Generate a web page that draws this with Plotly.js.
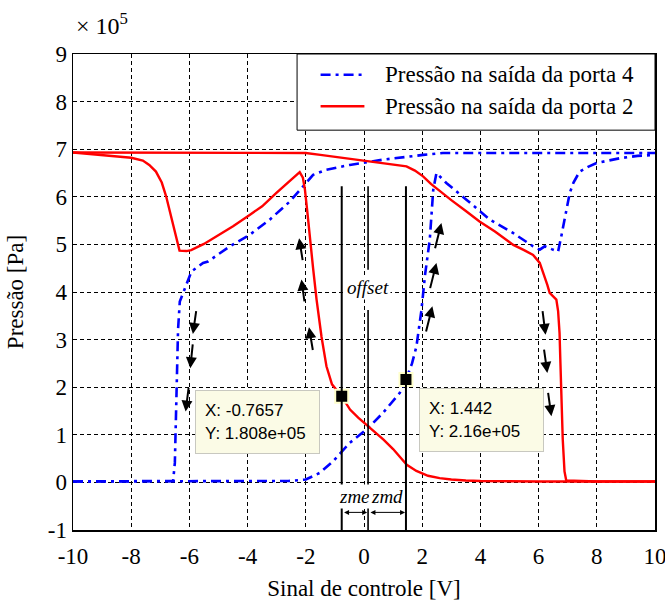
<!DOCTYPE html>
<html>
<head>
<meta charset="utf-8">
<script src="https://cdn.plot.ly/plotly-3.0.1.min.js"></script>
<style>
  html, body { margin: 0; padding: 0; background: #fff; }
  #chart { width: 665px; height: 604px; }
</style>
</head>
<body>
<div id="chart"></div>
<script>
// Pressure at port 4 (blue) — two branches of the hysteresis loop, separated by null
const port4X = [
  -10, -8, -6.56, -6.5, -6.45, -6.39, -6.33, -6.15, -5.93, -5.53, -5.36, -4.61, -3.93, -3.24, -2.55, -2.09, -1.75, -1.29, -0.49, 0.65, 1.5, 2.03, 2.71, 4, 6, 8, 10,
  null,
  -10, -6, -4, -2.6, -2.0, -1.52, -1.07, -0.49, 0.14, 0.65, 1.23, 1.442, 1.65, 1.8, 1.97, 2.1, 2.26, 2.38, 2.49, 2.83, 3.52, 4.32, 5.12, 5.81, 6.04, 6.21, 6.45, 6.67, 6.78, 6.92, 7.07, 7.2, 7.41, 7.7, 7.99, 8.79, 9.4, 10
];
const port4Y = [
  0.02, 0.02, 0.03, 0.41, 1.81, 3.21, 3.8, 4.1, 4.43, 4.61, 4.64, 4.96, 5.2, 5.52, 5.9, 6.22, 6.46, 6.57, 6.67, 6.78, 6.85, 6.88, 6.92, 6.92, 6.92, 6.92, 6.92,
  null,
  0.02, 0.02, 0.02, 0.03, 0.06, 0.2, 0.44, 0.83, 1.14, 1.46, 1.88, 2.16, 2.5, 2.85, 3.6, 4.37, 5.1, 6.15, 6.5, 6.29, 5.94, 5.52, 5.24, 4.96, 4.89, 4.96, 4.9, 4.85, 5.17, 5.65, 6.08, 6.3, 6.53, 6.63, 6.71, 6.81, 6.86, 6.88
];

// Pressure at port 2 (red) — lower loop branch, then the upper branch
const port2X = [
  -10, -9, -8, -7.6, -7.38, -7.15, -6.95, -6.8, -6.65, -6.52, -6.4, -6.34, -6.1, -5.94, -5.5, -5.08, -4.5, -3.93, -3.5, -3.01, -2.6, -2.21, -2.1, -2.03, -1.95, -1.86, -1.75, -1.63, -1.46, -1.29, -1.1, -0.7657, -0.48, -0.2, 0.15, 0.67, 1.0, 1.47, 1.8, 2.2, 2.6, 3.0, 3.5, 4, 6, 8, 10,
  null,
  -10, -6, -3, -2, -1.5, -1, -0.5, 0, 0.5, 1.0, 1.46, 1.75, 2.03, 2.3, 2.6, 3.0, 3.5, 3.97, 4.5, 5.13, 5.5, 5.81, 6.04, 6.21, 6.3, 6.38, 6.5, 6.61, 6.67, 6.72, 6.75, 6.78, 6.83, 6.89, 6.95, 8, 10
];
const port2Y = [
  6.93, 6.88, 6.82, 6.76, 6.67, 6.53, 6.3, 6.01, 5.65, 5.31, 5.0, 4.87, 4.86, 4.88, 5.01, 5.17, 5.38, 5.62, 5.8, 6.08, 6.3, 6.52, 6.4, 6.15, 5.7, 5.10, 4.5, 3.84, 3.06, 2.44, 2.06, 1.808, 1.53, 1.36, 1.18, 0.90, 0.7, 0.37, 0.24, 0.14, 0.09, 0.06, 0.04, 0.03, 0.02, 0.02, 0.02,
  null,
  6.93, 6.93, 6.93, 6.92, 6.88, 6.84, 6.79, 6.75, 6.71, 6.68, 6.64, 6.55, 6.43, 6.27, 6.12, 5.93, 5.7, 5.48, 5.27, 4.99, 4.88, 4.78, 4.61, 4.33, 4.15, 3.98, 3.9, 3.84, 3.6, 3.14, 2.5, 1.74, 0.9, 0.23, 0.04, 0.02, 0.02
];

const seriesNames = ['Pressão na saída da porta 4', 'Pressão na saída da porta 2'];
const seriesColors = ['#0000ff', '#ff0000'];
const blueDash = '10px,5px,3px,5px';

// Data tips
const tipX = [-0.7657, 1.442];
const tipY = [1.808, 2.16];
const tipText = ['X: -0.7657<br>Y: 1.808e+05', 'X: 1.442<br>Y: 2.16e+05'];
const tipBoxX = [-5.82, 1.89];
const tipBoxY = [1.95, 1.98];

// Dead-zone markers
const offsetX = 0.14;
const lineTopY = 6.22;
const offsetGap = [3.62, 4.47];
const zoneLabels = ['zme', 'zmd'];

// Direction arrows: [tailX, tailY, headX, headY]
const arrows = [
  [-5.76, 3.63, -5.88, 3.12], [-5.88, 2.93, -5.97, 2.40], [-6.02, 2.02, -6.13, 1.49],
  [-2.10, 4.64, -2.23, 5.13], [-2.04, 3.77, -2.15, 4.26], [-1.75, 2.75, -1.89, 3.26],
  [2.43, 4.89, 2.66, 5.45], [2.26, 4.05, 2.49, 4.61], [2.12, 3.14, 2.35, 3.70],
  [6.13, 3.63, 6.24, 3.10], [6.18, 2.82, 6.30, 2.30], [6.32, 1.91, 6.44, 1.39]
];

// Axis ticks
const xTicks = [-10, -8, -6, -4, -2, 0, 2, 4, 6, 8, 10];
const xTickText = ['-10', '-8', '-6', '-4', '-2', '0', '2', '4', '6', '8', '10'];
const yTicks = [-1, 0, 1, 2, 3, 4, 5, 6, 7, 8, 9];
const yTickText = ['-1', '0', '1', '2', '3', '4', '5', '6', '7', '8', '9'];

const serif = 'Liberation Serif, Times New Roman, serif';
const sans = 'Liberation Sans, Arial, sans-serif';
const FS = 23;

const traces = [
  {
    x: port4X, y: port4Y, type: 'scatter', mode: 'lines', name: seriesNames[0],
    line: { color: seriesColors[0], width: 2.6, dash: blueDash },
    connectgaps: false, showlegend: false
  },
  {
    x: port2X, y: port2Y, type: 'scatter', mode: 'lines', name: seriesNames[1],
    line: { color: seriesColors[1], width: 2.4 },
    connectgaps: false, showlegend: false
  },
  {
    x: tipX, y: tipY, type: 'scatter', mode: 'markers', showlegend: false,
    marker: { symbol: 'square', size: 13, color: '#000', line: { color: '#ffffcc', width: 2 } }
  }
];

const shapes = [];
const vline = (x, y0, y1, w) => ({
  type: 'line', xref: 'x', yref: 'y', x0: x, x1: x, y0: y0, y1: y1,
  line: { color: '#000', width: w }
});
shapes.push(vline(tipX[0], -1, lineTopY, 2));
shapes.push(vline(tipX[1], -1, lineTopY, 2));
shapes.push(vline(offsetX, offsetGap[1], lineTopY, 1.6));
shapes.push(vline(offsetX, -1, offsetGap[0], 1.6));

// Legend box drawn in paper space (top-right corner of the plot)
const legendBox = { x0: 0.385, x1: 1, y0: 0.840, y1: 1 };
const legendRowY = [0.9565, 0.8901];
const legendLine = [0.4254, 0.5007];
const legendTextX = 0.532;
shapes.push({
  type: 'rect', xref: 'paper', yref: 'paper',
  x0: legendBox.x0, x1: legendBox.x1, y0: legendBox.y0, y1: legendBox.y1,
  fillcolor: '#fff', line: { color: '#000', width: 1 }
});
seriesNames.forEach((n, i) => {
  shapes.push({
    type: 'line', xref: 'paper', yref: 'paper',
    x0: legendLine[0], x1: legendLine[1], y0: legendRowY[i], y1: legendRowY[i],
    line: { color: seriesColors[i], width: i === 0 ? 2.6 : 2.4, dash: i === 0 ? blueDash : 'solid' }
  });
});

const annotations = [];

seriesNames.forEach((n, i) => {
  annotations.push({
    x: legendTextX, y: legendRowY[i], xref: 'paper', yref: 'paper',
    xanchor: 'left', yanchor: 'middle', text: n, showarrow: false,
    font: { family: serif, size: FS, color: '#000' }
  });
});

// direction arrows
arrows.forEach(a => {
  annotations.push({
    x: a[2], y: a[3], ax: a[0], ay: a[1], xref: 'x', yref: 'y', axref: 'x', ayref: 'y',
    text: '', showarrow: true, arrowhead: 2, arrowsize: 1.1, arrowwidth: 2, arrowcolor: '#000'
  });
});

// data tip boxes
tipText.forEach((t, i) => {
  annotations.push({
    x: tipBoxX[i], y: tipBoxY[i], xref: 'x', yref: 'y', xanchor: 'left', yanchor: 'top',
    text: t, showarrow: false, align: 'left', width: 105, height: 44,
    bgcolor: '#fbfbe6', bordercolor: '#c8c8c0', borderwidth: 1, borderpad: 9,
    font: { family: sans, size: 17, color: '#000' }
  });
});

// offset label
annotations.push({
  x: offsetX, y: (offsetGap[0] + offsetGap[1]) / 2 + 0.05, xref: 'x', yref: 'y',
  text: 'offset', showarrow: false, bgcolor: '#fff',
  font: { family: serif, size: 19, color: '#000', style: 'italic' }
});

// zme / zmd spans
const spans = [[tipX[0], offsetX], [offsetX, tipX[1]]];
spans.forEach((s, i) => {
  annotations.push({
    x: (s[0] + s[1]) / 2, y: -0.3, xref: 'x', yref: 'y',
    text: zoneLabels[i], showarrow: false, bgcolor: '#fff',
    font: { family: serif, size: 19, color: '#000', style: 'italic' }
  });
  annotations.push({
    x: s[1] - 0.03, y: -0.63, ax: s[0] + 0.03, ay: -0.63, xref: 'x', yref: 'y', axref: 'x', ayref: 'y',
    text: '', showarrow: true, arrowhead: 2, startarrowhead: 2, arrowside: 'end+start',
    arrowsize: 1, startarrowsize: 1, arrowwidth: 1, arrowcolor: '#000'
  });
});

// exponent label
annotations.push({
  x: 0.002, y: 1.063, xref: 'paper', yref: 'paper', xanchor: 'left', yanchor: 'middle',
  text: '× 10<sup>5</sup>', showarrow: false,
  font: { family: serif, size: FS + 1, color: '#000' }
});

const axisCommon = {
  showgrid: true, gridcolor: '#000', gridwidth: 1, griddash: '4px,3px',
  zeroline: false, showline: true, linecolor: '#000', linewidth: 1.5, mirror: true,
  ticks: '', tickmode: 'array', automargin: false, ticklabeloverflow: 'allow',
  tickfont: { family: serif, size: FS, color: '#000' }
};

const layout = {
  width: 665, height: 604,
  margin: { l: 73, r: 10, t: 54, b: 74 },
  paper_bgcolor: '#fff', plot_bgcolor: '#fff',
  showlegend: false,
  xaxis: Object.assign({}, axisCommon, {
    range: [-10, 10], tickvals: xTicks, ticktext: xTickText, ticklabelstandoff: 5,
    title: { text: 'Sinal de controle [V]', font: { family: serif, size: FS, color: '#000' }, standoff: 12 }
  }),
  yaxis: Object.assign({}, axisCommon, {
    range: [-1, 9], tickvals: yTicks, ticktext: yTickText,
    title: { text: 'Pressão [Pa]', font: { family: serif, size: FS, color: '#000' }, standoff: 17 }
  }),
  shapes: shapes,
  annotations: annotations
};

Plotly.newPlot('chart', traces, layout, { staticPlot: true, displayModeBar: false });
</script>
</body>
</html>
